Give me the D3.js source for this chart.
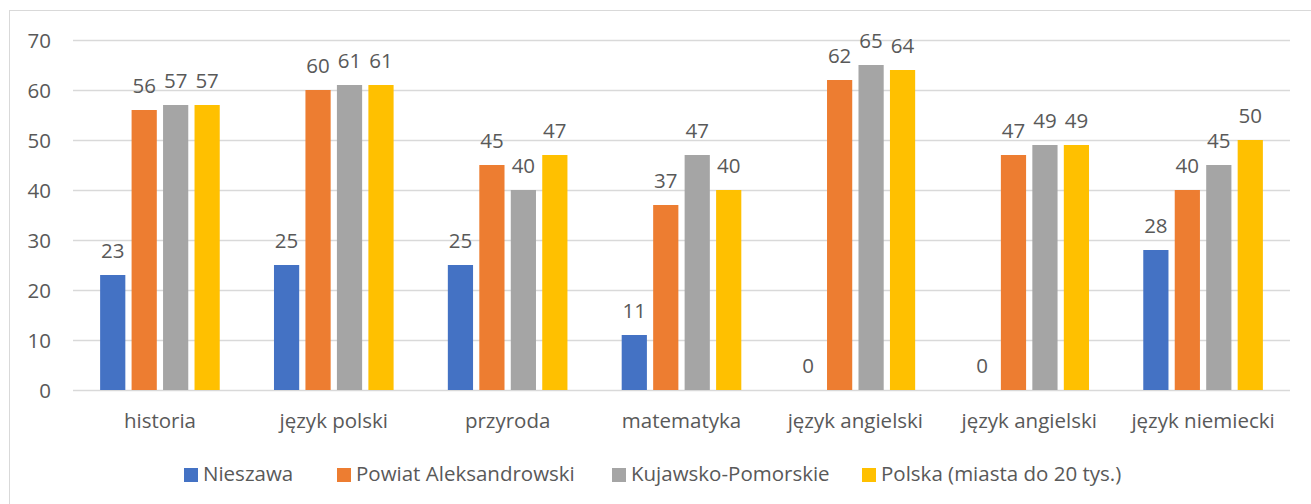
<!DOCTYPE html>
<html><head><meta charset="utf-8">
<script src="https://cdn.jsdelivr.net/npm/d3@7/dist/d3.min.js"></script>
<style>
html,body{margin:0;padding:0;background:#fff;}
svg text{font-family:"Open Sans",sans-serif;fill:#595959;}
</style></head>
<body>
<svg id="chart" width="1311" height="504"></svg>
<script>
const categories = ["historia","język polski","przyroda","matematyka","język angielski","język angielski","język niemiecki"];
const seriesNames = ["Nieszawa","Powiat Aleksandrowski","Kujawsko-Pomorskie","Polska (miasta do 20 tys.)"];
const nieszawa = [23,25,25,11,0,0,28];
const powiat = [56,60,45,37,62,47,40];
const kujawsko = [57,61,40,47,65,49,45];
const polska = [57,61,47,40,64,49,50];
const yTicks = [0,10,20,30,40,50,60,70];
const colors = ["#4472c4","#ed7d31","#a5a5a5","#ffc000"];
const seriesValues = [nieszawa, powiat, kujawsko, polska];

const svg = d3.select("#chart");
svg.append("rect").attr("x",9.5).attr("y",10.5).attr("width",1310).attr("height",500)
  .attr("fill","#fff").attr("stroke","#d9d9d9").attr("stroke-width",1);

const pLeft=73, pRight=1290, pTop=40, pBottom=390;
const x = d3.scaleBand().domain(d3.range(categories.length)).range([pLeft,pRight]);
const y = d3.scaleLinear().domain([0,70]).range([pBottom,pTop]);
const bw = x.bandwidth();
const barW = bw*0.145, step = bw*0.181;

// gridlines
const yAxis = d3.axisLeft(y).tickValues(yTicks).tickSize(-(pRight-pLeft)).tickFormat(d3.format("d"));
const gy = svg.append("g").attr("transform",`translate(${pLeft},0)`).call(yAxis);
gy.select(".domain").remove();
gy.selectAll(".tick line").attr("stroke","#d9d9d9").attr("stroke-width",1.5);
gy.selectAll(".tick text").attr("x",-22).attr("dy","0.35em").style("font-size","20.5px").attr("fill","#595959");

// x labels
const xAxis = d3.axisBottom(x).tickSize(0).tickFormat(i=>categories[i]);
const gx = svg.append("g").attr("transform",`translate(0,${pBottom})`).call(xAxis);
gx.select(".domain").remove();
gx.selectAll(".tick text").attr("y",38).attr("dy",null).style("font-size","20.5px").attr("fill","#595959");

// bars
seriesValues.forEach((vals,s)=>{
  const g = svg.append("g");
  g.selectAll("rect").data(vals).enter().append("rect")
    .attr("x",(d,i)=>x(i)+bw/2+(s-1.5)*step-barW/2)
    .attr("y",d=>y(d))
    .attr("width",barW)
    .attr("height",d=>pBottom-y(d))
    .attr("fill",colors[s]);
  g.selectAll("text").data(vals).enter().append("text")
    .attr("x",(d,i)=>x(i)+bw/2+(s-1.5)*step)
    .attr("y",d=>y(d)-17)
    .attr("text-anchor","middle")
    .style("font-size","20.5px")
    .text(d=>d);
});

// legend
const legendX = [184,337,612,862];
const lg = svg.append("g");
seriesNames.forEach((n,s)=>{
  lg.append("rect").attr("x",legendX[s]).attr("y",468).attr("width",14).attr("height",14).attr("fill",colors[s]);
  lg.append("text").attr("x",legendX[s]+19).attr("y",481).style("font-size","20.5px").text(n);
});
</script>
</body></html>
